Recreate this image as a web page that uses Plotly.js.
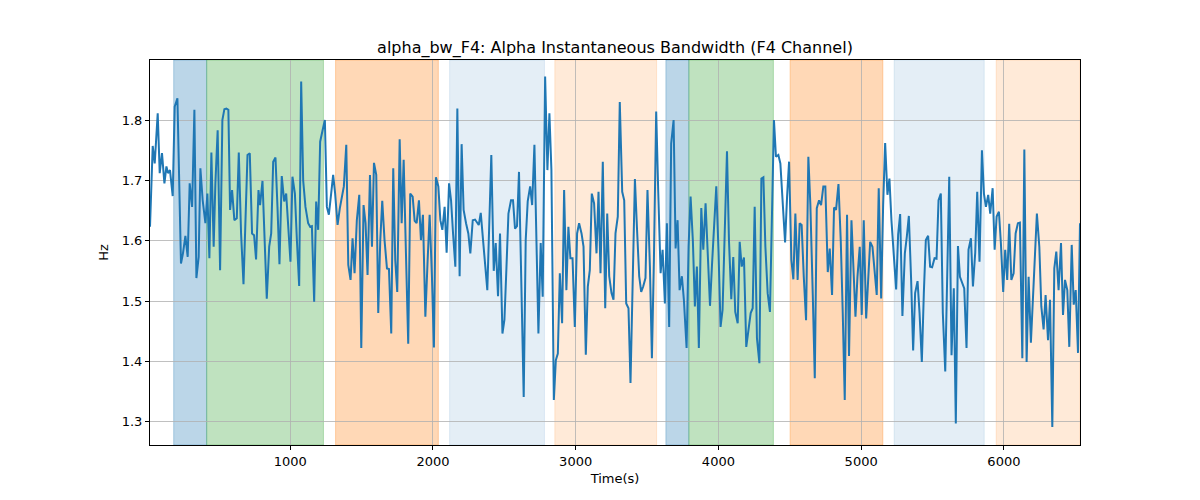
<!DOCTYPE html>
<html>
<head>
<meta charset="utf-8">
<script src="https://cdn.plot.ly/plotly-3.0.1.min.js"></script>
<style>html,body{margin:0;padding:0;background:#fff;}#chart{width:1200px;height:500px;}</style>
</head>
<body>
<div id="chart"></div>
<script>
const time = [18,37,51,72,86,102,119,133,144,158,177,191,210,235,249,266,282,296,313,329,343,359,371,387,406,420,434,448,464,476,492,509,525,539,553,567,
579,593,609,626,640,656,673,689,701,717,733,747,761,778,789,806,822,836,853,867,881,897,911,925,941,958,972,986,1002,1016,1033,1047,1063,1077,
1091,1107,1126,1140,1152,1168,1182,1196,1210,1227,1243,1257,1271,1287,1301,1315,1332,1348,1362,1376,1393,1407,1423,1437,1451,1467,1484,1498,1514,1528,1542,1559,1573,1587,1603,1617,1631,
1645,1661,1678,1692,1708,1722,1736,1750,1767,1781,1795,1811,1827,1841,1858,1872,1886,1902,1916,1930,1947,1963,1977,1993,2007,2021,2038,2052,2066,2082,2096,2113,2127,2141,2157,2171,2187,2201,
2215,2232,2248,2262,2279,2295,2309,2321,2335,2351,2367,2381,2395,2409,2426,2440,2456,2470,2487,2501,2515,2529,2547,2561,2575,2589,2603,2622,2636,2650,2664,2681,2695,2711,2725,2739,
2755,2769,2786,2802,2816,2830,2847,2861,2875,2889,2905,2919,2935,2949,2963,2978,2994,3010,3024,3041,3055,3071,3085,3099,3113,3129,3146,3160,3174,3190,3207,3221,3235,3251,3265,3279,3295,
3309,3326,3340,3354,3370,3384,3401,3415,3429,3445,3459,3473,3489,3503,3520,3534,3548,3564,3578,3595,3609,3625,3639,3655,3669,3686,3700,3714,3728,3744,3758,3777,3791,3805,3821,3835,
3849,3863,3880,3894,3910,3924,3941,3955,3971,3985,4001,4015,4029,4043,4060,4074,4090,4104,4118,4135,4149,4163,4179,4195,4212,4226,4240,4254,4270,4287,4301,4315,4329,4345,4361,4375,4389,
4403,4420,4434,4450,4467,4481,4495,4511,4525,4539,4555,4569,4583,4598,4614,4630,4644,4661,4675,4689,4705,4719,4735,4749,4766,4780,4796,4810,4824,4841,4857,4871,4885,4901,4915,4932,
4944,4960,4974,4990,5004,5018,5035,5049,5063,5079,5093,5109,5123,5140,5154,5168,5184,5198,5212,5229,5245,5259,5273,5289,5306,5320,5334,5350,5364,5378,5395,5409,5425,5439,5453,5469,
5483,5497,5514,5528,5542,5558,5572,5589,5603,5617,5633,5649,5663,5678,5692,5708,5722,5738,5752,5769,5783,5799,5813,5829,5846,5860,5874,5890,5904,5921,5935,5949,5965,5979,5995,6009,6023,
6037,6052,6068,6082,6098,6112,6129,6143,6159,6173,6189,6203,6217,6231,6248,6262,6278,6292,6309,6323,6339,6353,6367,6383,6400,6414,6428,6444,6458,6475,6489,6503,6519,6533];

const hz = [1.623,1.757,1.728,1.811,1.712,1.745,1.695,1.723,1.712,1.717,1.674,1.822,1.836,1.562,1.579,1.608,1.573,1.695,1.656,1.817,1.538,1.573,1.720,1.667,1.629,1.678,1.571,1.746,1.590,1.695,1.783,1.551,1.800,1.818,1.819,1.817,
1.651,1.684,1.634,1.637,1.746,1.612,1.528,1.662,1.742,1.745,1.612,1.609,1.569,1.684,1.659,1.699,1.607,1.504,1.590,1.612,1.731,1.738,1.656,1.561,1.707,1.665,1.678,1.618,1.565,1.706,1.678,1.601,1.525,1.864,
1.700,1.656,1.629,1.623,1.624,1.499,1.665,1.618,1.764,1.783,1.800,1.656,1.643,1.678,1.709,1.678,1.626,1.654,1.673,1.690,1.759,1.560,1.535,1.604,1.546,1.634,1.676,1.422,1.659,1.629,1.543,1.709,1.590,1.729,1.709,1.480,1.600,
1.666,1.601,1.554,1.553,1.446,1.720,1.568,1.515,1.768,1.629,1.734,1.579,1.429,1.678,1.673,1.633,1.629,1.667,1.601,1.643,1.474,1.568,1.643,1.541,1.423,1.705,1.690,1.634,1.618,1.656,1.580,1.695,1.667,1.612,1.557,1.819,1.541,1.760,
1.651,1.629,1.612,1.579,1.634,1.635,1.629,1.626,1.646,1.601,1.551,1.518,1.630,1.742,1.550,1.596,1.508,1.612,1.446,1.469,1.555,1.645,1.667,1.667,1.620,1.624,1.714,1.469,1.341,1.601,1.665,1.690,1.659,1.759,1.590,1.446,
1.596,1.507,1.872,1.717,1.811,1.717,1.336,1.402,1.413,1.546,1.463,1.684,1.518,1.623,1.571,1.571,1.457,1.612,1.629,1.612,1.590,1.411,1.524,1.551,1.678,1.662,1.579,1.681,1.546,1.731,1.488,1.645,1.541,1.513,1.502,1.612,1.640,
1.830,1.681,1.667,1.496,1.488,1.364,1.546,1.702,1.623,1.541,1.515,1.524,1.538,1.684,1.557,1.405,1.568,1.814,1.684,1.546,1.585,1.496,1.629,1.457,1.761,1.800,1.587,1.634,1.518,1.541,1.502,1.422,1.590,1.673,1.600,1.491,
1.557,1.422,1.654,1.585,1.662,1.580,1.492,1.560,1.620,1.690,1.580,1.457,1.485,1.600,1.748,1.600,1.503,1.573,1.482,1.463,1.598,1.557,1.572,1.424,1.457,1.480,1.488,1.656,1.438,1.397,1.703,1.705,1.590,1.513,1.482,1.640,1.800,
1.739,1.742,1.728,1.670,1.597,1.673,1.731,1.568,1.536,1.645,1.535,1.629,1.626,1.540,1.468,1.739,1.660,1.510,1.372,1.654,1.667,1.659,1.690,1.690,1.548,1.587,1.510,1.655,1.651,1.694,1.600,1.480,1.336,1.643,1.409,1.634,
1.570,1.474,1.540,1.590,1.477,1.634,1.471,1.540,1.598,1.590,1.550,1.510,1.687,1.504,1.660,1.762,1.676,1.703,1.634,1.579,1.519,1.610,1.644,1.475,1.579,1.607,1.641,1.535,1.418,1.513,1.533,1.480,1.399,1.513,1.601,1.608,
1.557,1.556,1.571,1.570,1.667,1.678,1.480,1.383,1.520,1.706,1.410,1.521,1.297,1.591,1.540,1.529,1.521,1.422,1.585,1.604,1.524,1.580,1.681,1.565,1.750,1.678,1.656,1.676,1.645,1.687,1.585,1.640,1.648,1.595,1.515,1.585,1.535,
1.628,1.535,1.546,1.612,1.629,1.630,1.405,1.751,1.399,1.540,1.431,1.500,1.570,1.645,1.590,1.491,1.453,1.510,1.435,1.502,1.291,1.554,1.582,1.518,1.596,1.477,1.535,1.518,1.424,1.593,1.494,1.518,1.414,1.629];

// shaded stage intervals
const regionStart = [184, 415, 1318, 2117, 2854, 3632, 3793, 4502, 5231, 5946];
const regionEnd   = [415, 1233, 2038, 2781, 3567, 3793, 4385, 5152, 5862, 6533];
const regionKind  = ['blue','green','orange','lightblue','lightorange','blue','green','orange','lightblue','lightorange'];

const xTicks = [1000, 2000, 3000, 4000, 5000, 6000];
const yTicks = [1.3, 1.4, 1.5, 1.6, 1.7, 1.8];

const kindColor = {
  blue: 'rgba(31,119,180,0.3)',
  green: 'rgba(44,160,44,0.3)',
  orange: 'rgba(255,127,14,0.3)',
  lightblue: 'rgba(31,119,180,0.12)',
  lightorange: 'rgba(255,127,14,0.16)'
};

const shapes = regionStart.map((s, i) => ({
  type: 'rect', xref: 'x', yref: 'paper', x0: s, x1: regionEnd[i], y0: 0, y1: 1,
  fillcolor: kindColor[regionKind[i]],
  line: {color: kindColor[regionKind[i]], width: 1},
  layer: 'below'
}));

const font = 'DejaVu Sans, sans-serif';
const trace = {
  x: time, y: hz, type: 'scatter', mode: 'lines',
  line: {color: '#1f77b4', width: 2}, hoverinfo: 'x+y'
};

const layout = {
  width: 1200, height: 500,
  margin: {l: 150, r: 120, t: 60, b: 55},
  paper_bgcolor: '#fff', plot_bgcolor: 'rgba(0,0,0,0)',
  font: {family: font, size: 13, color: '#000'},
  title: {text: 'alpha_bw_F4: Alpha Instantaneous Bandwidth (F4 Channel)', x: 0.5, xref: 'paper', y: 1, yref: 'paper', yanchor: 'bottom', pad: {b: 7}, font: {family: font, size: 16, color: '#000'}},
  showlegend: false,
  shapes: shapes,
  xaxis: {
    range: [18, 6533], tickvals: xTicks, ticktext: xTicks.map(String),
    showgrid: true, gridcolor: '#b0b0b0', gridwidth: 0.8,
    showline: true, linecolor: '#000', linewidth: 1, mirror: true,
    ticks: 'outside', ticklen: 4, tickcolor: '#000', zeroline: false,
    title: {text: 'Time(s)', font: {family: font, size: 13}, standoff: 6},
    tickfont: {family: font, size: 13}
  },
  yaxis: {
    range: [1.2613, 1.8995], tickvals: yTicks, ticktext: yTicks.map(v => v.toFixed(1)),
    showgrid: true, gridcolor: '#b0b0b0', gridwidth: 0.8,
    showline: true, linecolor: '#000', linewidth: 1, mirror: true,
    ticks: 'outside', ticklen: 4, tickcolor: '#000', zeroline: false,
    title: {text: 'Hz', font: {family: font, size: 13}, standoff: 10},
    tickfont: {family: font, size: 13}
  }
};

Plotly.newPlot('chart', [trace], layout, {staticPlot: true, displayModeBar: false});
</script>
</body>
</html>
